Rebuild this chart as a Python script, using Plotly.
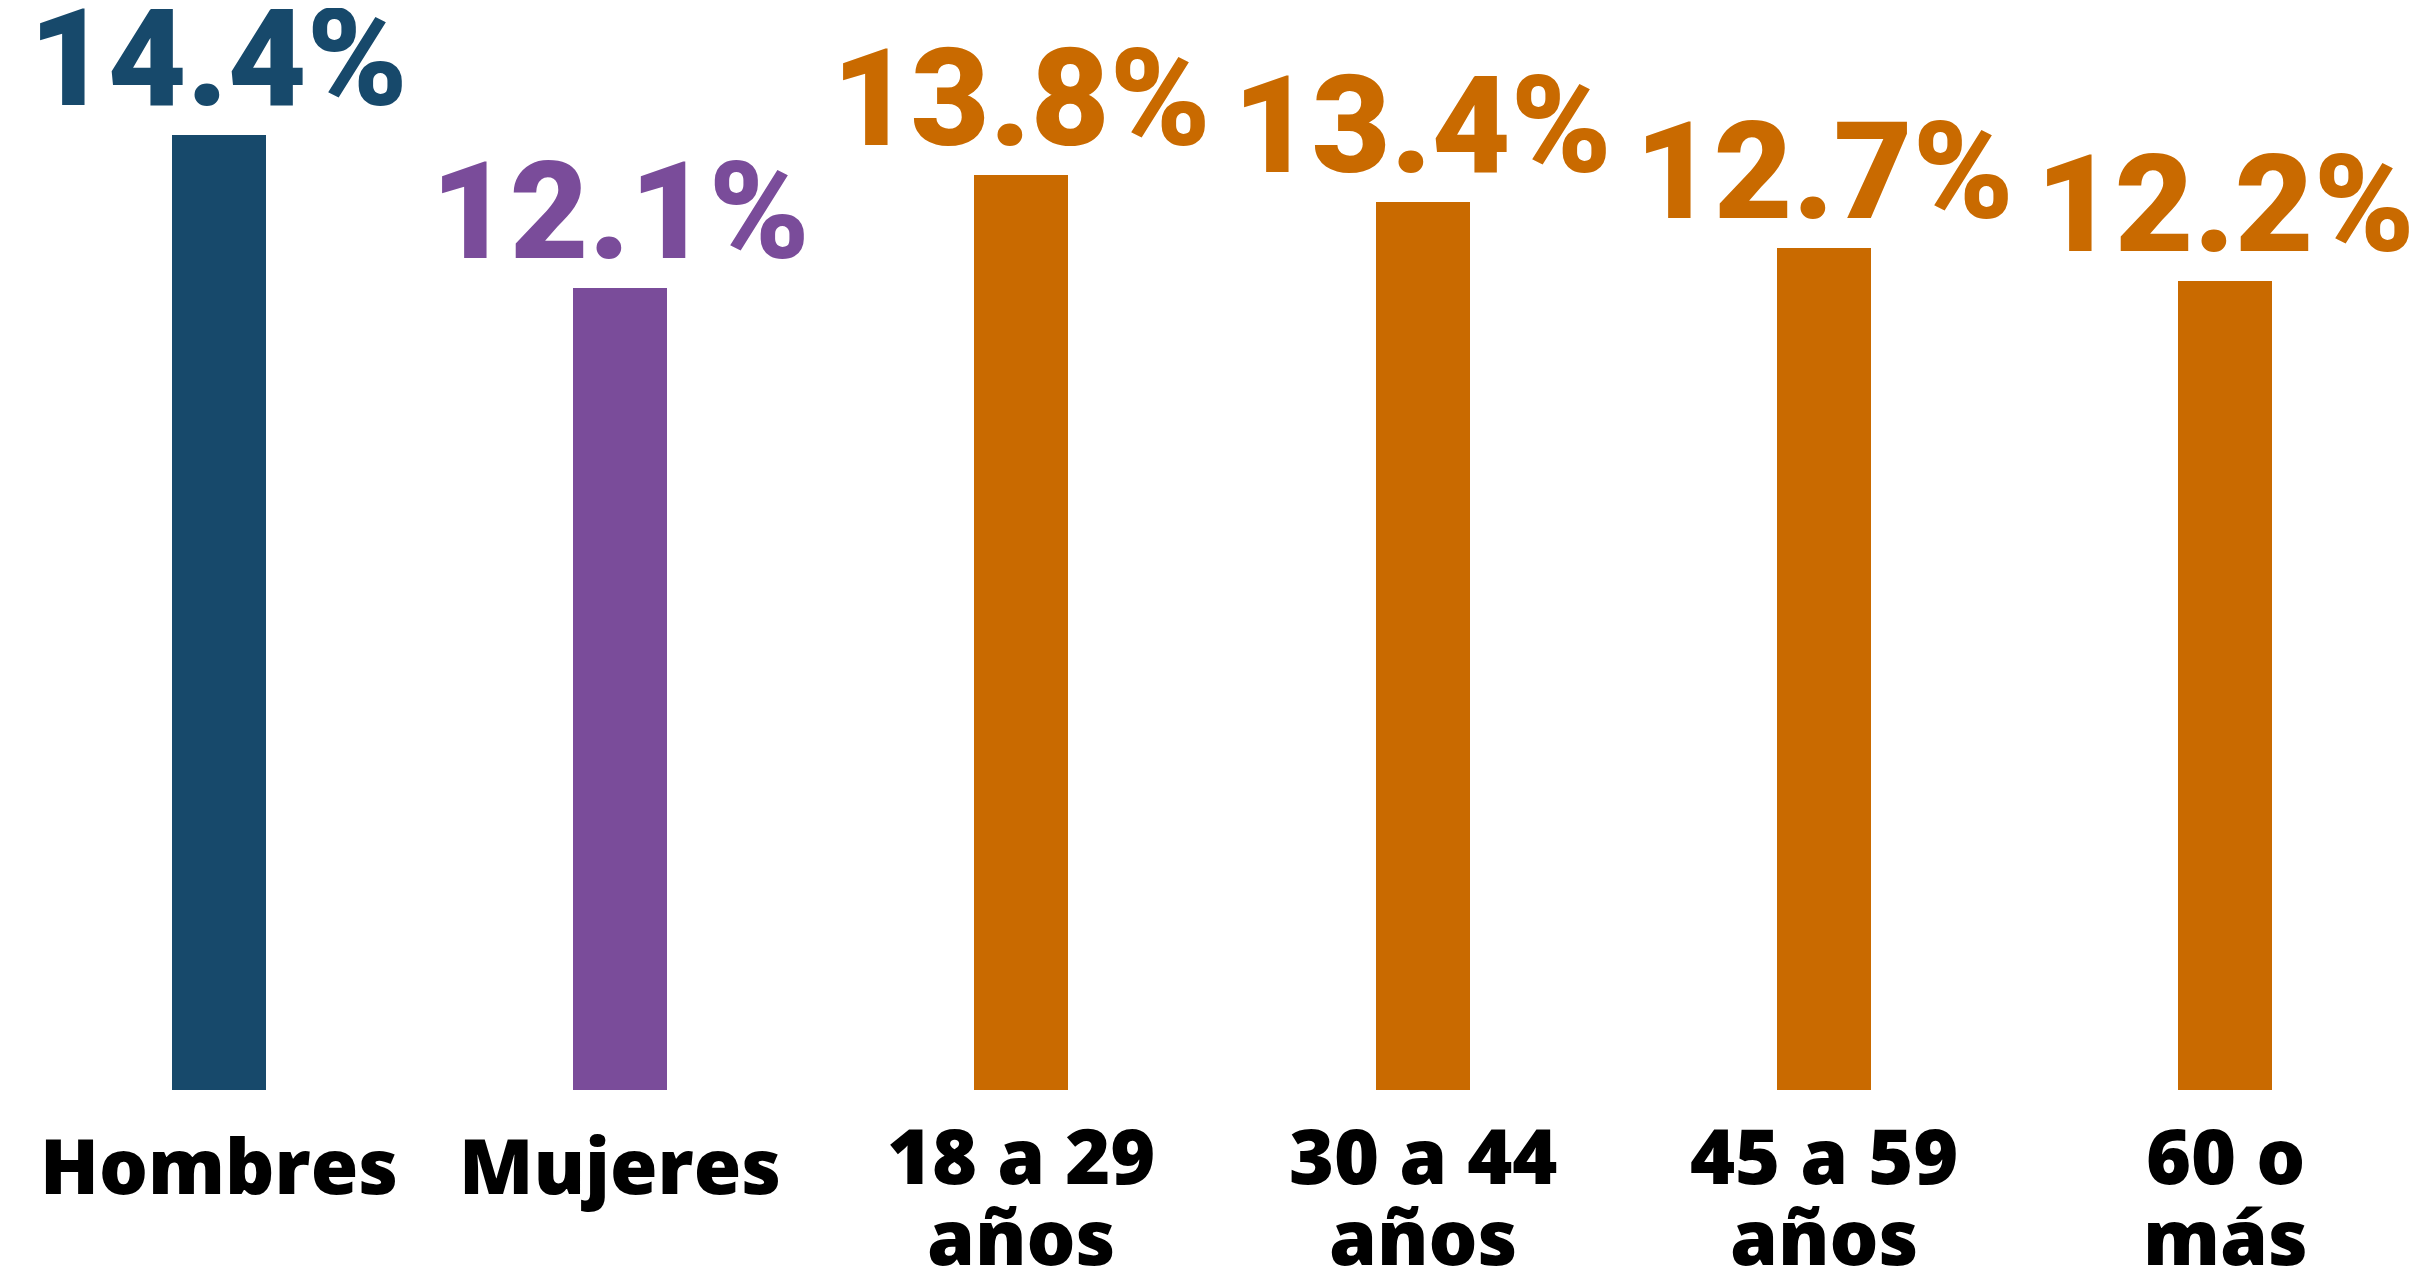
import plotly.graph_objects as go

categories = ["Hombres", "Mujeres", "18 a 29 años", "30 a 44 años", "45 a 59 años", "60 o más"]
tick_labels = ["Hombres", "Mujeres", "18 a 29<br>años", "30 a 44<br>años", "45 a 59<br>años", "60 o<br>más"]
values = [14.4, 12.1, 13.8, 13.4, 12.7, 12.2]
value_labels = ["14.4%", "12.1%", "13.8%", "13.4%", "12.7%", "12.2%"]
colors = ["#17496b", "#7a4c9a", "#c96a00", "#c96a00", "#c96a00", "#c96a00"]

W, H = 2429, 1274
BASE = 1082          # pixel row of the bars' baseline
PX_PER_UNIT = 66.3   # pixels per percentage point

fig = go.Figure()
fig.add_trace(go.Bar(
    x=categories, y=values, marker=dict(color=colors, line=dict(width=0)),
    width=0.235, hoverinfo="skip",
))

annotations = []
for cat, val, lab, col in zip(categories, values, value_labels, colors):
    annotations.append(dict(
        x=cat, y=val, xref="x", yref="y", text=lab, showarrow=False,
        xanchor="center", yanchor="bottom", yshift=-5,
        font=dict(family="Roboto", size=136, color=col, weight=900),
    ))

for cat, tl in zip(categories, tick_labels):
    lines = tl.split("<br>")
    offsets = [111] if len(lines) == 1 else [101, 182]
    for line, off in zip(lines, offsets):
        annotations.append(dict(
            x=cat, y=0, xref="x", yref="y", text=line, showarrow=False,
            xanchor="center", yanchor="bottom", yshift=-(off + 18),
            font=dict(family="Open Sans", size=77, color="#000000", weight=800),
        ))

fig.update_layout(
    width=W, height=H,
    margin=dict(l=10, r=11, t=0, b=H - BASE, pad=0),
    paper_bgcolor="white", plot_bgcolor="white",
    showlegend=False, bargap=0,
    xaxis=dict(type="category", range=[-0.5, 5.5], showticklabels=False,
               showgrid=False, zeroline=False, showline=False, ticks=""),
    yaxis=dict(range=[0, BASE / PX_PER_UNIT], visible=False, showgrid=False,
               zeroline=False),
    annotations=annotations,
)

fig.write_html("out.html")
